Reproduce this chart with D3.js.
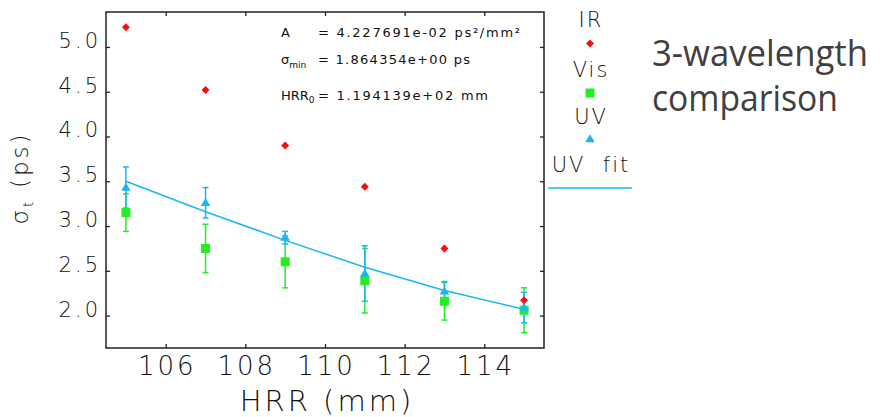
<!DOCTYPE html>
<html>
<head>
<meta charset="utf-8">
<script src="https://cdn.jsdelivr.net/npm/d3@7"></script>
<style>
  body { margin: 0; background: #fff; }
  svg { display: block; }
  .lbl { font-family: "DejaVu Sans", sans-serif; fill: #111; }
</style>
</head>
<body>
<div id="chart"></div>
<script>
// data
var hrr = [105, 107, 109, 111, 113, 115];
var irSigma = [5.22, 4.52, 3.90, 3.44, 2.75, 2.17];
var visSigma = [3.15, 2.75, 2.60, 2.39, 2.16, 2.06];
var visErr = [0.21, 0.27, 0.29, 0.36, 0.21, 0.25];
var uvSigma = [3.43, 3.26, 2.87, 2.47, 2.27, 2.09];
var uvErr = [0.23, 0.17, 0.07, 0.31, 0.11, 0.17];
var uvFit = [3.50, 3.16, 2.84, 2.54, 2.28, 2.07];
var xTicks = [106, 108, 110, 112, 114];
var yTicks = [2.0, 2.5, 3.0, 3.5, 4.0, 4.5, 5.0];
var legendNames = ["IR", "Vis", "UV", "UV  fit"];

var svgWidth = 888;
var svgHeight = 417;

// plot box
var margin = { top: 12, right: 344, bottom: 69, left: 106 };
var width = svgWidth - margin.left - margin.right;
var height = svgHeight - margin.top - margin.bottom;

var red = "#ff0a0a";
var green = "#22ee22";
var blue = "#19b6f5";

var svg = d3.select("#chart")
  .append("svg")
  .attr("width", svgWidth)
  .attr("height", svgHeight);

var chartGroup = svg.append("g")
  .attr("transform", `translate(${margin.left}, ${margin.top})`);

var xScale = d3.scaleLinear().domain([104.5, 115.5]).range([0, width]);
var yScale = d3.scaleLinear().domain([1.638, 5.39]).range([height, 0]);

// frame
chartGroup.append("rect")
  .attr("width", width)
  .attr("height", height)
  .attr("fill", "none")
  .attr("stroke", "#222")
  .attr("stroke-width", 1.5);

// axes, ticks pointing in
var bottomAxis = d3.axisBottom(xScale).tickValues(xTicks).tickSize(-4).tickFormat("");
var topAxis = d3.axisTop(xScale).tickValues(xTicks).tickSize(-4).tickFormat("");
var leftAxis = d3.axisLeft(yScale).tickValues(yTicks).tickSize(-4).tickFormat("");
var rightAxis = d3.axisRight(yScale).tickValues(yTicks).tickSize(-4).tickFormat("");

chartGroup.append("g").attr("transform", `translate(0, ${height})`).call(bottomAxis);
chartGroup.append("g").call(topAxis);
chartGroup.append("g").call(leftAxis);
chartGroup.append("g").attr("transform", `translate(${width}, 0)`).call(rightAxis);
chartGroup.selectAll(".domain").remove();
chartGroup.selectAll(".tick line").attr("stroke", "#222").attr("stroke-width", 1.3);

// tick labels
chartGroup.selectAll(".xlab")
  .data(xTicks)
  .enter()
  .append("text")
  .attr("class", "lbl")
  .attr("x", d => xScale(d) + 1.5)
  .attr("y", height + 27)
  .attr("text-anchor", "middle")
  .style("font-size", "26px")
  .style("font-weight", 200)
  .style("letter-spacing", "3px")
  .text(d => d);

chartGroup.selectAll(".ylab")
  .data(yTicks)
  .enter()
  .append("text")
  .attr("class", "lbl")
  .attr("x", -5)
  .attr("y", d => yScale(d) + 1)
  .attr("text-anchor", "end")
  .style("font-size", "21px")
  .style("font-weight", 200)
  .style("letter-spacing", "3px")
  .text(d => d.toFixed(1));

// axis titles
chartGroup.append("text")
  .attr("class", "lbl")
  .attr("x", width / 2 + 2)
  .attr("y", height + 63)
  .attr("text-anchor", "middle")
  .style("font-size", "29px")
  .style("font-weight", 200)
  .style("letter-spacing", "3px")
  .text("HRR (mm)");

var yTitle = chartGroup.append("text")
  .attr("class", "lbl")
  .attr("transform", `translate(${28 - margin.left}, ${height / 2 - 2}) rotate(-90)`)
  .attr("text-anchor", "middle")
  .style("font-size", "23px")
  .style("font-weight", 200)
  .style("letter-spacing", "3px");
yTitle.append("tspan").text("σ");
yTitle.append("tspan").attr("dy", 5).style("font-size", "14px").text("t");
yTitle.append("tspan").attr("dy", -5).text(" (ps)");

// fit line
var fitLine = d3.line()
  .x((d, i) => xScale(hrr[i]))
  .y(d => yScale(d));

chartGroup.append("path")
  .datum(uvFit)
  .attr("d", fitLine)
  .attr("fill", "none")
  .attr("stroke", blue)
  .attr("stroke-width", 1.5);

// error bars
function errorBars(values, errs, color) {
  var g = chartGroup.append("g")
    .attr("stroke", color)
    .attr("stroke-width", 1.5);
  values.forEach(function(v, i) {
    var x = xScale(hrr[i]);
    var y0 = yScale(v - errs[i]);
    var y1 = yScale(v + errs[i]);
    g.append("line").attr("x1", x).attr("x2", x).attr("y1", y0).attr("y2", y1);
    g.append("line").attr("x1", x - 3).attr("x2", x + 3).attr("y1", y0).attr("y2", y0);
    g.append("line").attr("x1", x - 3).attr("x2", x + 3).attr("y1", y1).attr("y2", y1);
  });
}

errorBars(visSigma, visErr, green);
errorBars(uvSigma, uvErr, blue);

var diamond = "M0,-4L4,0L0,4L-4,0Z";
var square = "M-4.5,-4.5H4.5V4.5H-4.5Z";
var triangle = "M0,-4.8L4.8,3.2L-4.8,3.2Z";

// markers
chartGroup.selectAll(".ir")
  .data(irSigma)
  .enter()
  .append("path")
  .attr("d", diamond)
  .attr("transform", (d, i) => `translate(${xScale(hrr[i])}, ${yScale(d)})`)
  .attr("fill", red);

chartGroup.selectAll(".vis")
  .data(visSigma)
  .enter()
  .append("path")
  .attr("d", square)
  .attr("transform", (d, i) => `translate(${xScale(hrr[i])}, ${yScale(d)})`)
  .attr("fill", green);

chartGroup.selectAll(".uv")
  .data(uvSigma)
  .enter()
  .append("path")
  .attr("d", triangle)
  .attr("transform", (d, i) => `translate(${xScale(hrr[i])}, ${yScale(d)})`)
  .attr("fill", blue);

// fit parameters
var note = chartGroup.append("g")
  .attr("class", "lbl")
  .style("font-size", "13px")
  .style("white-space", "pre");

note.append("text").attr("x", 175).attr("y", 25).text("A");
note.append("text").attr("x", 212).attr("y", 25)
  .attr("textLength", 202).attr("lengthAdjust", "spacing")
  .text("= 4.227691e-02 ps²/mm²");

var sm = note.append("text").attr("x", 175).attr("y", 52);
sm.append("tspan").text("σ");
sm.append("tspan").attr("dy", 4).style("font-size", "9px").text("min");
note.append("text").attr("x", 212).attr("y", 52)
  .attr("textLength", 152).attr("lengthAdjust", "spacing")
  .text("= 1.864354e+00  ps");

var hr = note.append("text").attr("x", 175).attr("y", 88);
hr.append("tspan").text("HRR");
hr.append("tspan").attr("dy", 3).style("font-size", "9px").text("0");
note.append("text").attr("x", 212).attr("y", 88)
  .attr("textLength", 170).attr("lengthAdjust", "spacing")
  .text("= 1.194139e+02  mm");

// legend, outside the box on the right
var lx = 590;
var legend = svg.append("g");
var labY = [27, 77, 124, 172];
var markY = [43.5, 93, 139];

legend.selectAll(".leg")
  .data(legendNames)
  .enter()
  .append("text")
  .attr("class", "lbl")
  .attr("x", lx + 1)
  .attr("y", (d, i) => labY[i])
  .attr("text-anchor", "middle")
  .style("font-size", "21px")
  .style("font-weight", 200)
  .style("letter-spacing", "2px")
  .style("white-space", "pre")
  .text(d => d);

legend.append("path").attr("d", diamond).attr("transform", `translate(${lx}, ${markY[0]})`).attr("fill", red);
legend.append("path").attr("d", square).attr("transform", `translate(${lx}, ${markY[1]})`).attr("fill", green);
legend.append("path").attr("d", triangle).attr("transform", `translate(${lx}, ${markY[2]})`).attr("fill", blue);
legend.append("line")
  .attr("x1", 548).attr("x2", 632)
  .attr("y1", 188).attr("y2", 188)
  .attr("stroke", blue)
  .attr("stroke-width", 1.5);

// slide title
var title = svg.append("text")
  .style("font-family", "'Open Sans', sans-serif")
  .style("font-size", "36px")
  .style("fill", "#404040");
title.append("tspan").attr("x", 652).attr("y", 66).attr("textLength", 216).attr("lengthAdjust", "spacingAndGlyphs").text("3-wavelength");
title.append("tspan").attr("x", 652).attr("y", 111).attr("textLength", 186).attr("lengthAdjust", "spacingAndGlyphs").text("comparison");
</script>
</body>
</html>
